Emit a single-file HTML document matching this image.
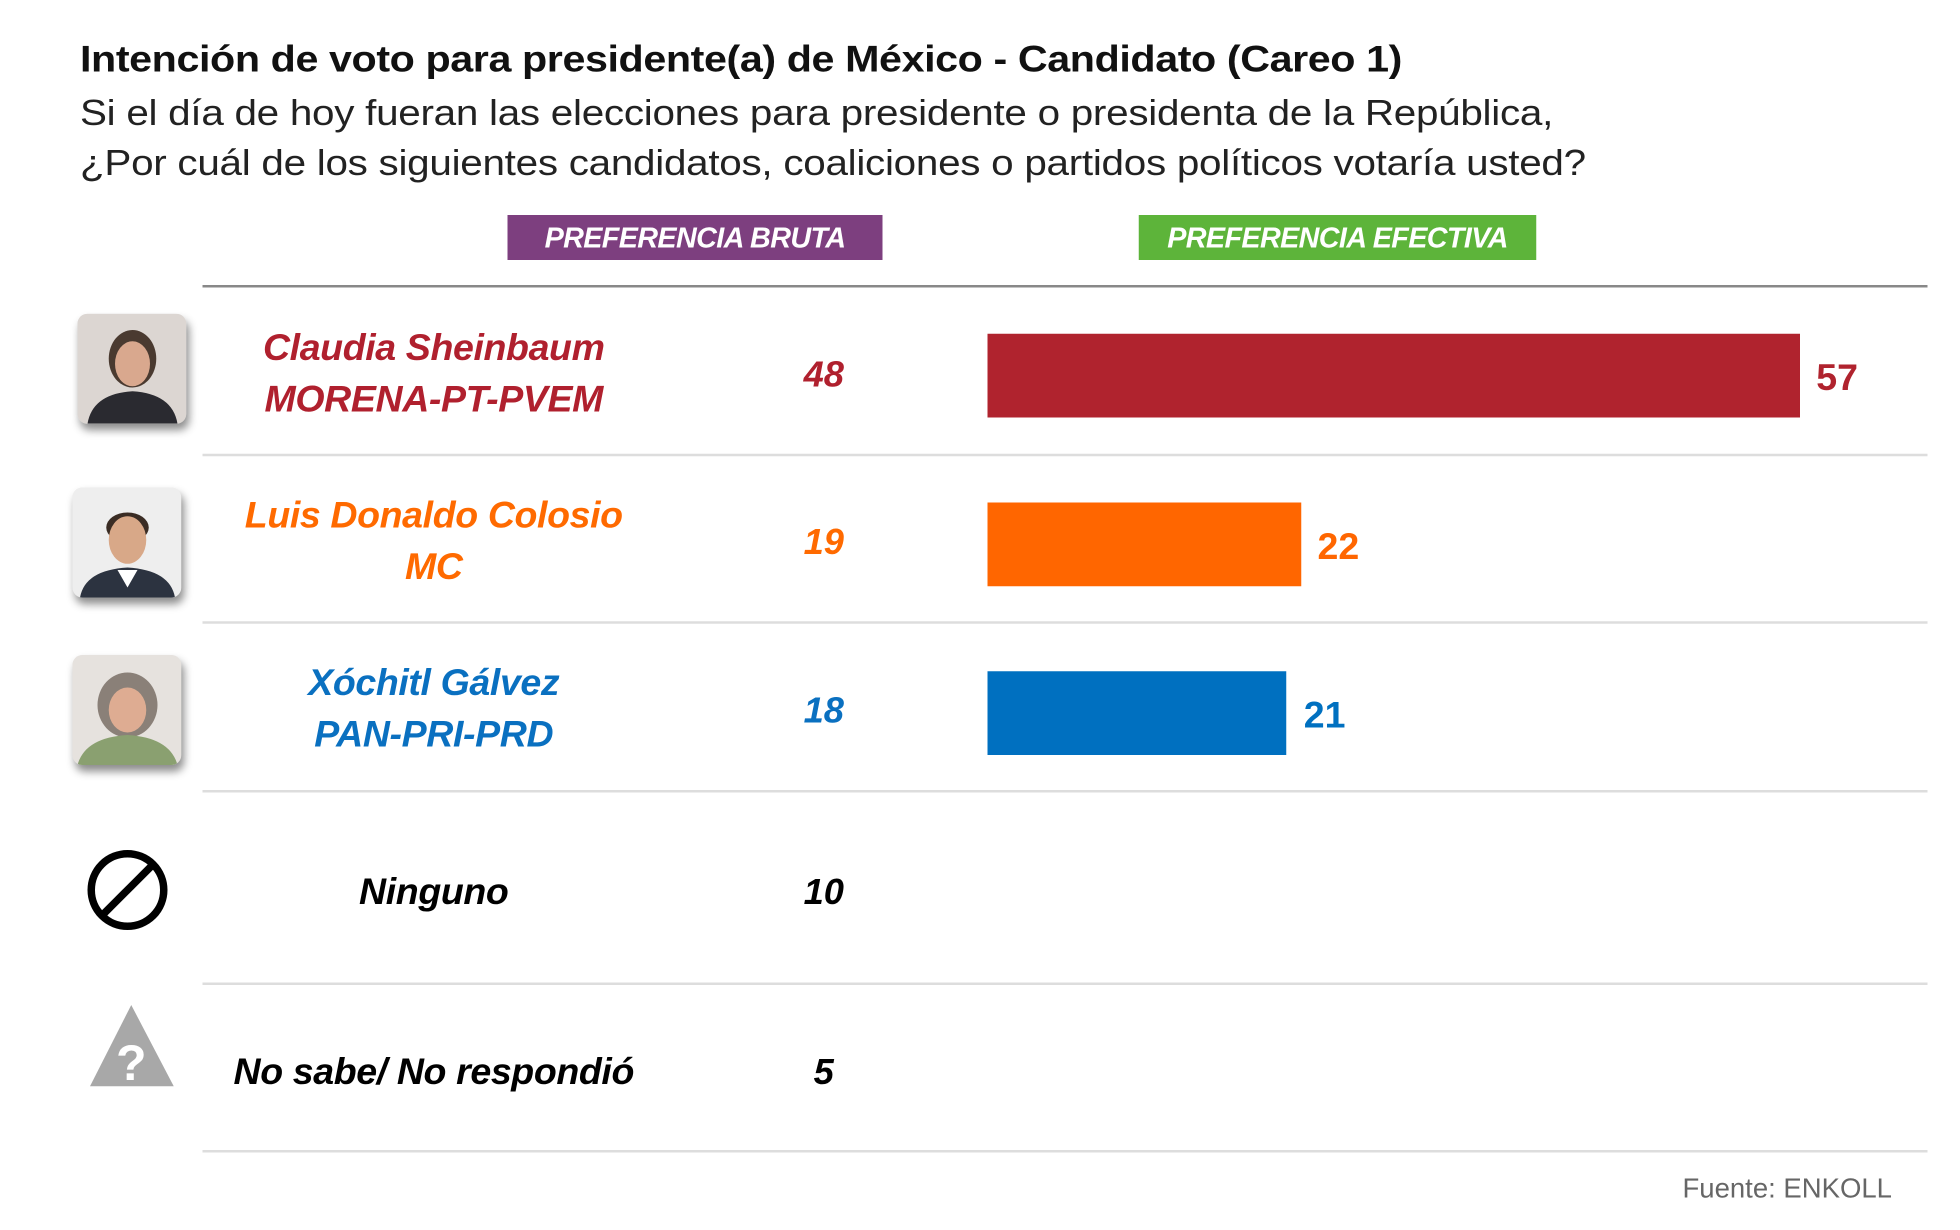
<!DOCTYPE html>
<html><head><meta charset="utf-8"><style>
html,body{margin:0;padding:0;background:#fff;width:1960px;height:1230px;overflow:hidden}
#w{position:absolute;left:0;top:0;width:1568px;height:984px;transform-origin:0 0;transform:scale(1.25,1.25);font-family:"Liberation Sans",sans-serif}
.a{position:absolute;white-space:nowrap}
.t{font-weight:bold;font-size:30px;left:64px;top:31px;color:#111;letter-spacing:-0.3px;transform-origin:0 0;transform:scaleX(1.1)}
.s{font-size:29px;left:64px;color:#222;letter-spacing:-0.2px;transform-origin:0 0;transform:scaleX(1.115)}
.box{position:absolute;top:172px;height:36px;color:#fff;font-weight:bold;font-style:italic;font-size:23px;line-height:37px;text-align:center;letter-spacing:-0.5px}
.ln{position:absolute;left:162px;width:1380px;height:2px;background:#ddd}
.nm{position:absolute;width:400px;left:147px;text-align:center;font-weight:bold;font-style:italic;font-size:30px;line-height:41px;letter-spacing:-0.3px}
.v{position:absolute;width:80px;left:619px;text-align:center;font-weight:bold;font-style:italic;font-size:29px;line-height:34px}
.bar{position:absolute;left:790px;height:67px}
.bv{position:absolute;font-weight:bold;font-size:30px;line-height:34px}
.ph{position:absolute;width:87px;height:88px;border-radius:8px;box-shadow:2px 5px 7px rgba(0,0,0,.45);overflow:hidden;background:#e8e6e4}
</style></head><body><div id="w">
<div class="a t">Intención de voto para presidente(a) de México - Candidato (Careo 1)</div>
<div class="a s" style="top:75px">Si el día de hoy fueran las elecciones para presidente o presidenta de la República,</div>
<div class="a s" style="top:115px">¿Por cuál de los siguientes candidatos, coaliciones o partidos políticos votaría usted?</div>
<div class="box" style="left:406px;width:300px;background:#7d3f7f">PREFERENCIA BRUTA</div>
<div class="box" style="left:911px;width:318px;background:#5db43a">PREFERENCIA EFECTIVA</div>
<div class="ln" style="top:228px;background:#888"></div>
<div class="ln" style="top:363px"></div><div class="ln" style="top:497px"></div><div class="ln" style="top:632px"></div><div class="ln" style="top:786px"></div><div class="ln" style="top:920px"></div>

<div class="ph" style="left:62px;top:251px"><svg width="87" height="88"><rect width="87" height="88" fill="#dcd6d2"/><ellipse cx="44" cy="36" rx="19" ry="23" fill="#4a3a30"/><ellipse cx="44" cy="40" rx="14" ry="18" fill="#d9a88e"/><path d="M8 88 Q12 64 44 62 Q76 64 80 88Z" fill="#2a2a30"/></svg></div>
<div class="ph" style="left:58px;top:390px"><svg width="87" height="88"><rect width="87" height="88" fill="#eeeeee"/><ellipse cx="44" cy="32" rx="17" ry="12" fill="#3a2c24"/><ellipse cx="44" cy="42" rx="15" ry="19" fill="#d8a888"/><path d="M6 88 Q10 66 44 64 Q78 66 82 88Z" fill="#2c3340"/><path d="M36 66 L44 80 L52 66Z" fill="#fff"/></svg></div>
<div class="ph" style="left:58px;top:524px"><svg width="87" height="88"><rect width="87" height="88" fill="#e6e2de"/><ellipse cx="44" cy="40" rx="24" ry="26" fill="#8a8078"/><ellipse cx="44" cy="44" rx="15" ry="18" fill="#deac92"/><path d="M4 88 Q10 66 44 64 Q78 66 84 88Z" fill="#8aa070"/></svg></div>

<div class="nm" style="top:258px;color:#b0202e">Claudia Sheinbaum<br>MORENA-PT-PVEM</div>
<div class="v" style="top:283px;color:#b0202e">48</div>
<div class="bar" style="top:267px;width:650px;background:#b0232e"></div>
<div class="bv" style="left:1453px;top:286px;color:#b0232e">57</div>

<div class="nm" style="top:392px;color:#ff6a00">Luis Donaldo Colosio<br>MC</div>
<div class="v" style="top:417px;color:#ff6a00">19</div>
<div class="bar" style="top:402px;width:251px;background:#ff6600"></div>
<div class="bv" style="left:1054px;top:421px;color:#ff6600">22</div>

<div class="nm" style="top:526px;color:#0a70c0">Xóchitl Gálvez<br>PAN-PRI-PRD</div>
<div class="v" style="top:552px;color:#0a70c0">18</div>
<div class="bar" style="top:537px;width:239px;background:#0070c0"></div>
<div class="bv" style="left:1043px;top:556px;color:#0070c0">21</div>

<svg class="a" style="left:68px;top:678px" width="70" height="70"><circle cx="34" cy="34" r="29" fill="none" stroke="#000" stroke-width="6"/><line x1="54" y1="14" x2="14" y2="54" stroke="#000" stroke-width="6"/></svg>
<div class="nm" style="top:693px;color:#000">Ninguno</div>
<div class="v" style="top:697px;color:#000">10</div>

<svg class="a" style="left:70px;top:802px" width="72" height="70"><polygon points="35,2 69,67 2,67" fill="#a8a8a8"/><text x="35" y="62" text-anchor="middle" font-family="Liberation Sans" font-weight="bold" font-size="40" fill="#fff">?</text></svg>
<div class="nm" style="top:837px;color:#000">No sabe/ No respondió</div>
<div class="v" style="top:841px;color:#000">5</div>

<div class="a" style="left:1346px;top:938px;font-size:22px;color:#666">Fuente: ENKOLL</div>
</div></body></html>
